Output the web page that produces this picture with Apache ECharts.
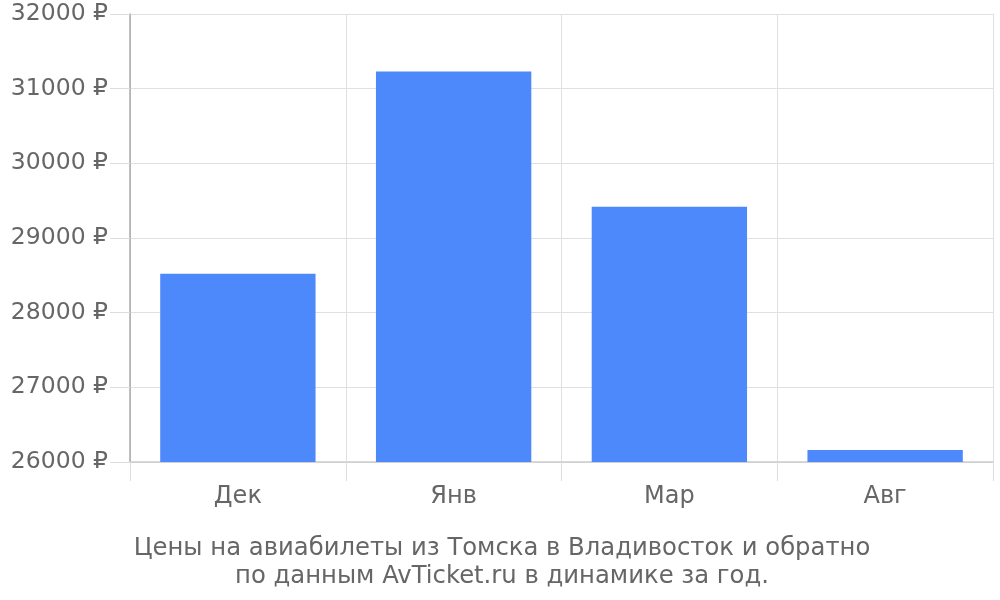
<!DOCTYPE html>
<html>
<head>
<meta charset="utf-8">
<script src="https://cdn.jsdelivr.net/npm/echarts@6/dist/echarts.min.js"></script>
<style>html,body{margin:0;padding:0;background:#fff}#c{width:1000px;height:600px}</style>
</head>
<body>
<div id="c"></div>
<script>
const categories = ['Дек', 'Янв', 'Мар', 'Авг'];
const prices = [28520, 31230, 29420, 26160];
const yMin = 26000, yMax = 32000, yStep = 1000;
const titleText = 'Цены на авиабилеты из Томска в Владивосток и обратно\nпо данным AvTicket.ru в динамике за год.';

const chart = echarts.init(document.getElementById('c'));
const font = 'DejaVu Sans';
chart.setOption({
  animation: false,
  textStyle: { fontFamily: font },
  title: {
    text: titleText,
    left: 497, top: 530, textAlign: 'center',
    textStyle: { fontFamily: font, fontSize: 24.3, fontWeight: 'normal', color: '#666', lineHeight: 28 }
  },
  grid: { left: 130, right: 7, top: 14, bottom: 138, containLabel: false },
  xAxis: {
    type: 'category',
    data: categories,
    axisLine: { show: true, lineStyle: { color: '#ccc', width: 1.5 } },
    axisTick: { show: true, length: 19, lineStyle: { color: '#ddd' } },
    splitLine: { show: true, lineStyle: { color: '#e0e0e0' } },
    axisLabel: { fontFamily: font, fontSize: 24, color: '#666', margin: 23 }
  },
  yAxis: {
    type: 'value',
    min: yMin, max: yMax, interval: yStep,
    axisLine: { show: true, lineStyle: { color: '#aaa', width: 1.5 } },
    axisTick: { show: true, length: 20, lineStyle: { color: '#ddd' } },
    splitLine: { show: true, lineStyle: { color: '#e0e0e0' } },
    axisLabel: { fontFamily: font, fontSize: 23.5, color: '#666', margin: 22, formatter: v => v + ' ₽' }
  },
  series: [{
    type: 'bar',
    data: prices,
    barCategoryGap: '28%',
    itemStyle: { color: '#4d89fb' }
  }]
});
</script>
</body>
</html>
